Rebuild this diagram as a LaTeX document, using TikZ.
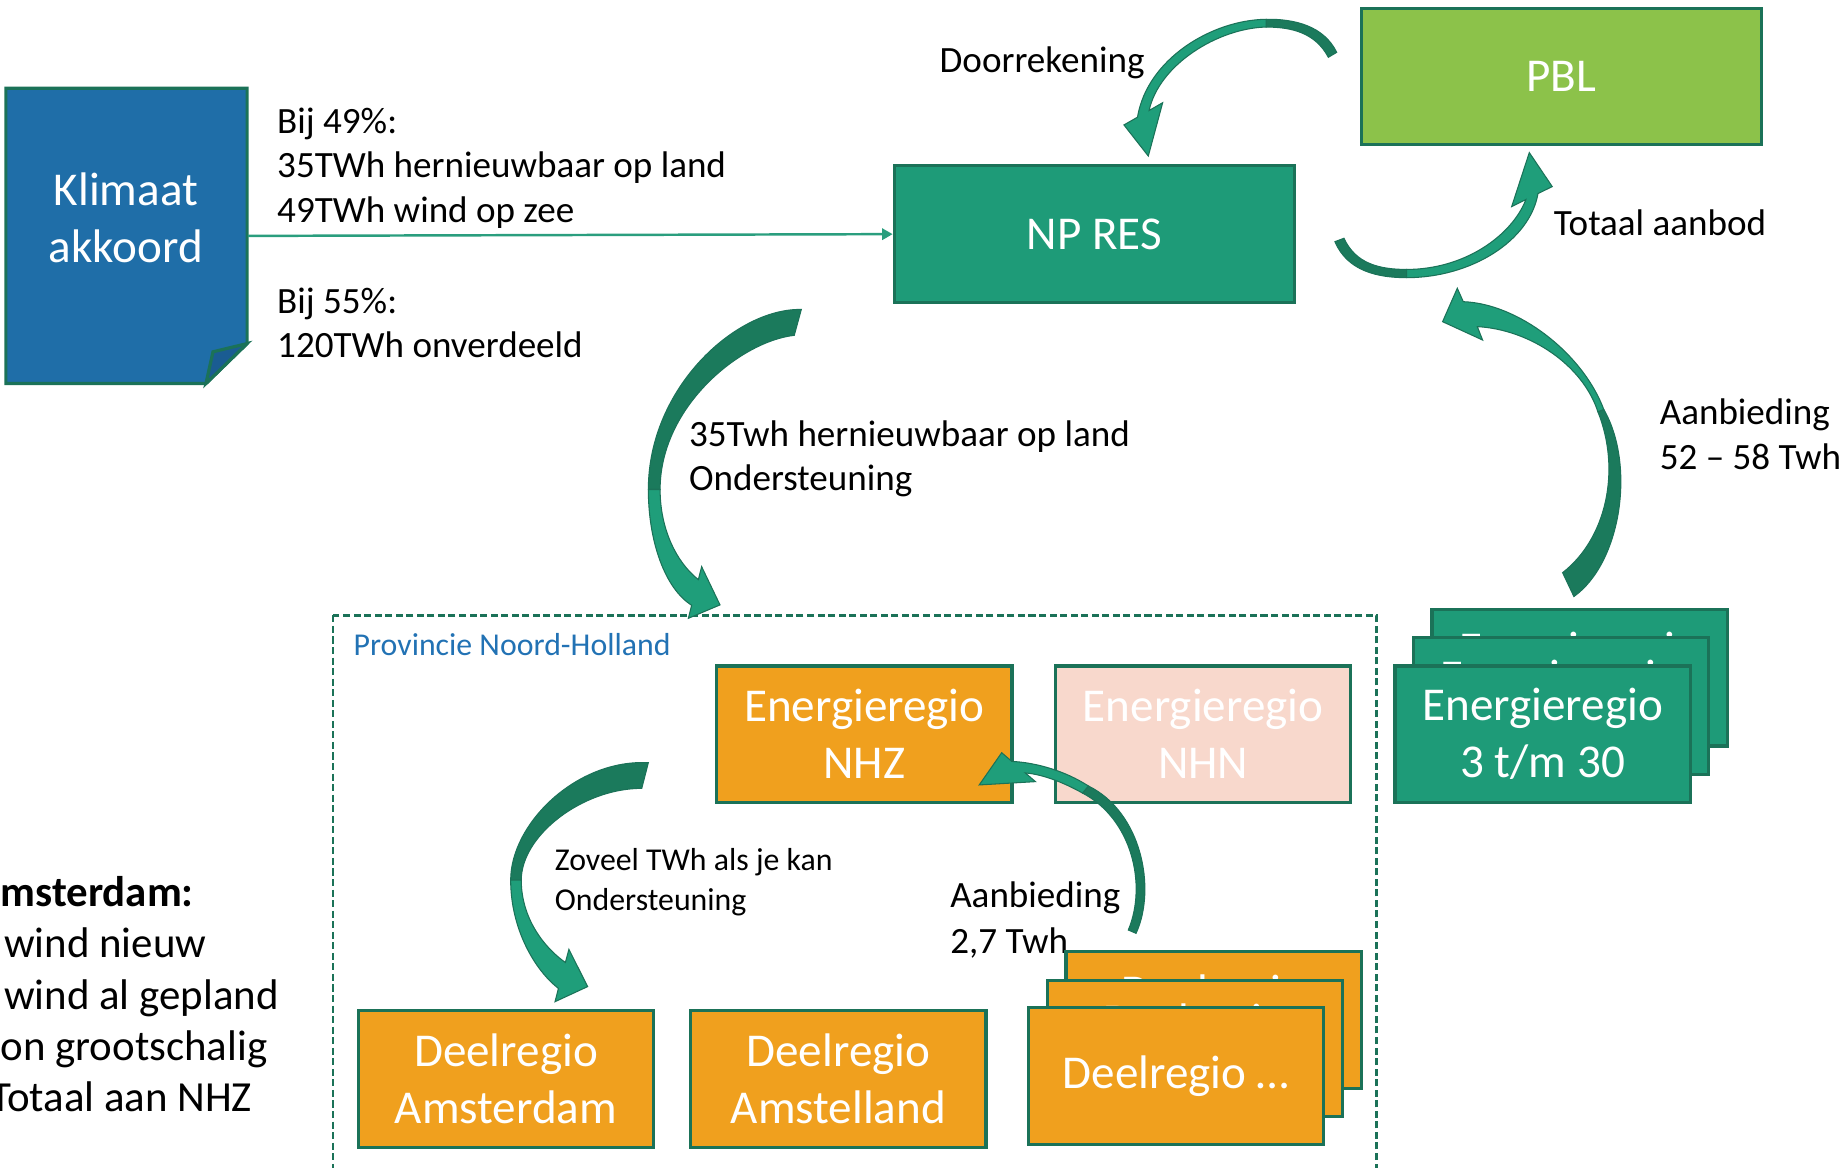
\documentclass[tikz,border=0pt]{standalone}
\usepackage{fontspec}
\setmainfont{Carlito}
\usetikzlibrary{arrows.meta, positioning}

\definecolor{klimblue}{HTML}{1F6EA8}
\definecolor{klimfold}{HTML}{1A5C92}
\definecolor{resgreen}{HTML}{1E9B78}
\definecolor{edgegreen}{HTML}{1B7258}
\definecolor{pblgreen}{HTML}{8CC24A}
\definecolor{regorange}{HTML}{F0A01E}
\definecolor{nhnpink}{HTML}{F8D8CC}
\definecolor{arrowdark}{HTML}{1B7A5C}
\definecolor{arrowlight}{HTML}{1F9E7A}
\definecolor{provblue}{HTML}{2272B4}
\definecolor{linegreen}{HTML}{2A9E7E}

\tikzset{
  sz/.style 2 args={minimum width=#1*0.011767cm, minimum height=#2*0.011767cm},
  box/.style={draw=edgegreen, line width=0.9pt, inner sep=0pt, align=center,
    text=white, font=\fontsize{13.4}{16.2}\selectfont, sz={251}{116}},
  note/.style={anchor=base west, align=left, inner sep=0pt,
    font=\fontsize{10.55}{12.7}\selectfont},
  smallnote/.style={note, font=\fontsize{9.05}{11.4}\selectfont},
  flow/.style={draw=linegreen, line width=0.7pt, -{Triangle[length=3pt, width=3.2pt]}},
  darkpart/.style={fill=arrowdark, draw=edgegreen, line width=0.3pt},
  lightpart/.style={fill=arrowlight, draw=edgegreen, line width=0.3pt},
  provbox/.style={draw=edgegreen, line width=0.7pt, dash pattern=on 2pt off 1pt}
}

\begin{document}
\begin{tikzpicture}[x=0.011767cm, y=-0.011767cm]
\useasboundingbox (0,0) rectangle (1568,992);

% Provincie Noord-Holland
\draw[provbox] (283,523) rectangle (1170,1010);
\node[smallnote, text=provblue] (provlabel) at (300,557) {Provincie Noord-Holland};

% Klimaat akkoord (folded sheet)
\filldraw[fill=klimblue, draw=edgegreen, line width=0.9pt]
  (5,75) -- (210,75) -- (210,292) -- (175,326) -- (5,326) -- cycle;
\filldraw[fill=klimfold, draw=edgegreen, line width=0.9pt]
  (210,292) -- (181,299) -- (175,326) -- cycle;
\node[sz={205}{251}, inner sep=0pt] (klimaat) at (107.5,200.5) {};
\node[box, draw=none, sz={10}{10}] (klimaattxt) at (107,185) {Klimaat\\akkoord};

% Texts (anchored at the baseline of their last line)
\node[note] (bij49) at (235,189) {Bij 49\%:\\35TWh hernieuwbaar op land\\49TWh wind op zee};
\node[note] (bij55) at (235,304) {Bij 55\%:\\120TWh onverdeeld};
\node[note] (doorrek) at (798,62) {Doorrekening};
\node[note] (totaal) at (1320,200) {Totaal aanbod};
\node[note] (steun) at (585,417) {35Twh hernieuwbaar op land\\Ondersteuning};
\node[note] (aanb) at (1410,399) {Aanbieding\\52 – 58 Twh};
\node[smallnote] (zoveel) at (471,774) {Zoveel TWh als je kan\\Ondersteuning};
\node[note, font=\fontsize{10.55}{13}\selectfont] (aanbnhz) at (807,810) {Aanbieding\\2,7 Twh};
\node[note, font=\fontsize{12.2}{14.6}\selectfont] (amsnote) at (0,945)
  {\textbf{msterdam:}\\\hspace*{1pt}wind nieuw\\\hspace*{1pt}wind al gepland\\on grootschalig\\\hspace*{-3pt}Totaal aan NHZ};

% Boxes
\node[box, fill=resgreen, sz={340}{116}] (npres) at (930,199) {NP RES};
\node[box, fill=pblgreen, sz={340}{116}] (pbl) at (1327,65) {PBL};
\node[box, fill=regorange] (nhz) at (734.5,624) {Energieregio\\NHZ};
\node[box, fill=nhnpink] (nhn) at (1022.5,624) {Energieregio\\NHN};
\node[box, fill=resgreen] (er3c) at (1342.5,576) {Energieregio\\3 t/m 30};
\node[box, fill=resgreen] (er3b) at (1326.5,600) {Energieregio\\3 t/m 30};
\node[box, fill=resgreen] (er3a) at (1311,624) {Energieregio\\3 t/m 30};
\node[box, fill=regorange] (dams) at (430,917) {Deelregio\\Amsterdam};
\node[box, fill=regorange] (damst) at (712.5,917) {Deelregio\\Amstelland};
\node[box, fill=regorange] (ddc) at (1031.5,867) {Deelregio\\…};
\node[box, fill=regorange] (ddb) at (1015.5,891) {Deelregio\\…};
\node[box, fill=regorange] (dda) at (999.5,914.5) {Deelregio …};

% Klimaat -> NP RES
\draw[flow] (klimaat.east) -- (npres.west);

% Doorrekening: PBL -> NP RES
\filldraw[darkpart] (1136,44.5) .. controls (1125,22) and (1100,16) .. (1076,16.4)
  -- (1076,23) .. controls (1098,23) and (1118,28) .. (1128.9,48.7) -- cycle;
\filldraw[lightpart] (1076,16.4) .. controls (1030,17) and (975,50) .. (966.7,99.6)
  -- (955.2,106.2) -- (975.9,132.6) -- (988.1,87.3) -- (976.6,93.9)
  .. controls (985,55) and (1035,24) .. (1076,23) -- cycle;

% Totaal aanbod: NP RES -> PBL
\filldraw[darkpart] (1134.5,205.4) .. controls (1145,230) and (1170,236) .. (1195.4,236)
  -- (1195.4,229) .. controls (1172,229) and (1152,224) .. (1142.2,202.5) -- cycle;
\filldraw[lightpart] (1195.4,236) .. controls (1250,236) and (1300,205) .. (1307.1,164.5)
  -- (1319.2,158.6) -- (1299.7,129.7) -- (1284.7,175.6) -- (1296.8,169.6)
  .. controls (1285,200) and (1245,229) .. (1195.4,229) -- cycle;

% 35Twh: NP RES -> Provincie
\filldraw[darkpart] (681,263) .. controls (625,262) and (551,330) .. (551,416)
  -- (561,416) .. controls (561,345) and (630,290) .. (675,285) -- cycle;
\filldraw[lightpart] (551,416) .. controls (551,460) and (565,500) .. (587.8,514.4)
  -- (585,525.5) -- (611.9,514.1) -- (596.3,481.6) -- (593.5,492.6)
  .. controls (575,478) and (561,450) .. (561,416) -- cycle;

% Aanbieding 52-58: Energieregio 3 t/m 30 -> NP RES
\filldraw[darkpart] (1337.6,507) .. controls (1378,478) and (1390,395) .. (1363,348)
  -- (1358,350) .. controls (1378,400) and (1365,458) .. (1328,486.7) -- cycle;
\filldraw[lightpart] (1363,348) .. controls (1345,300) and (1290,258) .. (1243.6,256.4)
  -- (1238.5,245) -- (1226,273.4) -- (1260,289) -- (1255.5,277.6)
  .. controls (1300,280) and (1345,310) .. (1358,350) -- cycle;

% Zoveel TWh: NHZ -> Deelregio Amsterdam
\filldraw[darkpart] (551,648.2) .. controls (490,645) and (434,700) .. (434,748)
  -- (443,748) .. controls (443,710) and (495,670) .. (545.4,670) -- cycle;
\filldraw[lightpart] (434,748) .. controls (434,790) and (455,825) .. (474.6,840)
  -- (471.7,851.3) -- (499.4,838.5) -- (483.5,806.8) -- (480.5,818)
  .. controls (462,805) and (443,780) .. (443,748) -- cycle;

% Aanbieding 2,7: Deelregio ... -> NHZ
\filldraw[darkpart] (965.5,793.2) .. controls (983,755) and (970,690) .. (925,668)
  -- (920,674) .. controls (962,696) and (975,752) .. (958.9,790.4) -- cycle;
\filldraw[lightpart] (925,668) .. controls (905,655) and (880,648) .. (859.9,647.1)
  -- (851.3,639.7) -- (832.2,667.1) -- (880,664.3) -- (871.4,656.9)
  .. controls (885,658) and (902,664) .. (920,674) -- cycle;
\end{tikzpicture}
\end{document}
